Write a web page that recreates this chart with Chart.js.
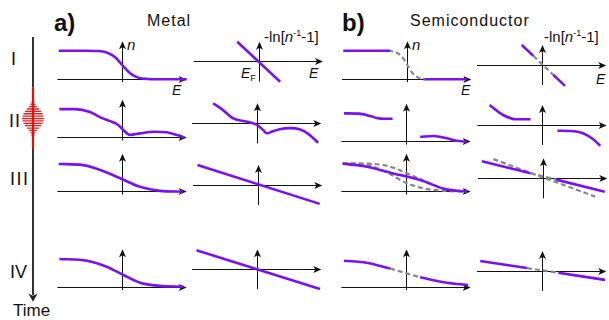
<!DOCTYPE html>
<html>
<head>
<meta charset="utf-8">
<script src="https://cdn.jsdelivr.net/npm/chart.js@4.4.1/dist/chart.umd.min.js"></script>
<style>
  body { margin: 0; background: #fff; width: 609px; height: 320px; position: relative; overflow: hidden;
         font-family: "Liberation Sans", Arial, sans-serif; color: #111; }
  canvas { position: absolute; }
  .t { position: absolute; line-height: 1; white-space: nowrap; }
  .i { font-style: italic; }
  sup { font-size: 9px; vertical-align: 6px; line-height: 0; }
</style>
</head>
<body>
<div class="t" style="left:54px;top:10.7px;font-size:24px;font-weight:bold">a)</div>
<div class="t" style="left:147px;top:13.2px;font-size:16px;letter-spacing:1px">Metal</div>
<div class="t" style="left:342px;top:10.7px;font-size:24px;font-weight:bold">b)</div>
<div class="t" style="left:410px;top:13.2px;font-size:16px;letter-spacing:1px">Semiconductor</div>

<div class="t" style="left:11px;top:49.8px;font-size:18px">I</div>
<div class="t" style="left:9px;top:111.5px;font-size:18px;letter-spacing:1px">II</div>
<div class="t" style="left:10px;top:169.8px;font-size:18px;letter-spacing:1.5px">III</div>
<div class="t" style="left:10px;top:262.8px;font-size:18px">IV</div>
<div class="t" style="left:13px;top:302.3px;font-size:17px">Time</div>

<div class="t i" style="left:127px;top:37.3px;font-size:15px">n</div>
<div class="t i" style="left:172px;top:83.1px;font-size:14px">E</div>
<div class="t" style="left:264px;top:29px;font-size:15px">-ln[<span class="i">n</span><sup>-1</sup>-1]</div>
<div class="t i" style="left:241px;top:66.1px;font-size:14px">E<span style="font-size:9px;font-style:normal;position:relative;top:3px">F</span></div>
<div class="t i" style="left:309px;top:66.1px;font-size:14px">E</div>

<div class="t i" style="left:412px;top:37.3px;font-size:15px">n</div>
<div class="t i" style="left:461px;top:83.1px;font-size:14px">E</div>
<div class="t" style="left:544px;top:29px;font-size:15px">-ln[<span class="i">n</span><sup>-1</sup>-1]</div>
<div class="t i" style="left:596px;top:72.1px;font-size:14px">E</div>

<script>
// ---- data: energy E (x) and occupation n or -ln[1/n-1] (y) for each panel ----
// Row I
const metalI_E = [-1.0, -0.6, -0.4, -0.25, -0.12, 0, 0.12, 0.25, 0.4, 0.6, 1.0];
const metalI_n = [1, 1, 0.99, 0.94, 0.78, 0.48, 0.2, 0.05, 0.01, 0, 0];
const metalI_lnE = [-0.34, 0.33];
const metalI_ln = [0.7, -0.7];
const semiI_E1 = [-1.0, -0.27];
const semiI_n1 = [1, 1];
const semiI_Ed = [-0.3, -0.18, -0.08, 0, 0.08, 0.18, 0.27];
const semiI_nd = [1, 0.95, 0.78, 0.5, 0.22, 0.05, 0];
const semiI_E2 = [0.25, 0.93];
const semiI_n2 = [0, 0];
const semiI_lnE1 = [-0.32, -0.14];
const semiI_ln1 = [0.7, 0.32];
const semiI_lnEd = [-0.14, 0.17];
const semiI_lnd = [0.32, -0.34];
const semiI_lnE2 = [0.17, 0.355];
const semiI_ln2 = [-0.34, -0.73];

// Row II
const metalII_E = [-0.99, -0.75, -0.51, -0.35, -0.2, -0.09, 0.01, 0.11, 0.27, 0.48, 0.69, 0.85, 0.96];
const metalII_n = [1.0, 1.0, 0.9, 0.71, 0.58, 0.48, 0.27, 0.1, 0.15, 0.21, 0.19, 0.09, 0.01];
const metalII_lnE = [-0.69, -0.54, -0.375, -0.22, -0.11, 0, 0.09, 0.15, 0.23, 0.35, 0.51, 0.67, 0.79, 0.95];
const metalII_ln = [0.70, 0.47, 0.17, 0.08, 0.03, -0.06, -0.23, -0.35, -0.29, -0.21, -0.17, -0.22, -0.36, -0.68];
const semiII_E1 = [-0.98, -0.75, -0.57, -0.47, -0.35, -0.22];
const semiII_n1 = [0.99, 0.98, 0.9, 0.83, 0.8, 0.8];
const semiII_E2 = [0.21, 0.42, 0.63, 0.78, 0.94];
const semiII_n2 = [0.17, 0.2, 0.12, 0.03, 0];
const semiII_lnE1 = [-0.83, -0.62, -0.41, -0.19];
const semiII_ln1 = [0.70, 0.35, 0.2, 0.2];
const semiII_lnE2 = [0.23, 0.43, 0.63, 0.79, 0.9];
const semiII_ln2 = [-0.2, -0.21, -0.29, -0.5, -0.73];

// Row III
const metalIII_E = [-1.0, -0.62, -0.35, -0.04, 0.27, 0.58, 0.94];
const metalIII_n = [0.97, 0.93, 0.76, 0.47, 0.17, 0.03, 0];
const metalIII_lnE = [-0.95, 0.96];
const metalIII_ln = [0.7, -0.66];
const semiIII_E = [-1.0, -0.68, -0.21, 0.21, 0.6, 0.94];
const semiIII_n = [0.98, 0.9, 0.64, 0.41, 0.09, 0.0];
const semiIII_Ehi = [-1.0, -0.6, -0.3, 0, 0.3, 0.6, 0.94];
const semiIII_nhi = [0.99, 0.98, 0.9, 0.65, 0.35, 0.1, 0.0];
const semiIII_Elo = [-1.0, -0.6, -0.3, 0, 0.3, 0.6, 0.94];
const semiIII_nlo = [0.99, 0.93, 0.66, 0.3, 0.1, 0.03, 0.0];
const semiIII_lnE1 = [-0.96, -0.2];
const semiIII_ln1 = [0.6, 0.177];
const semiIII_lnEd = [-0.2, 0.2];
const semiIII_lnd = [0.177, -0.046];
const semiIII_lnE2 = [0.2, 0.96];
const semiIII_ln2 = [-0.046, -0.47];
const semiIII_lnEref = [-0.78, 0.81];
const semiIII_lnref = [0.67, -0.64];

// Row IV
const metalIV_E = [-0.99, -0.56, -0.25, 0.01, 0.27, 0.58, 0.95];
const metalIV_n = [0.99, 0.93, 0.72, 0.43, 0.16, 0.05, 0.02];
const metalIV_lnE = [-0.95, 0.98];
const metalIV_ln = [0.67, -0.69];
const semiIV_E1 = [-0.98, -0.63, -0.26];
const semiIV_n1 = [0.93, 0.86, 0.66];
const semiIV_Ed = [-0.26, -0.02, 0.21];
const semiIV_nd = [0.66, 0.5, 0.35];
const semiIV_E2 = [0.21, 0.63, 0.96];
const semiIV_n2 = [0.35, 0.16, 0.08];
const semiIV_lnE1 = [-0.97, -0.24];
const semiIV_ln1 = [0.35, 0.103];
const semiIV_lnEd = [-0.24, 0.25];
const semiIV_lnd = [0.103, -0.062];
const semiIV_lnE2 = [0.25, 0.98];
const semiIV_ln2 = [-0.062, -0.31];

// time axis: pump window and pulse stripes (time 0..1 top to bottom, half-width in px)
const pumpWindow = [0.19, 0.423];
const pulseT = [0.245, 0.254, 0.263, 0.272, 0.281, 0.290, 0.299, 0.308, 0.317, 0.326, 0.335, 0.344, 0.353, 0.362, 0.371];
const pulseA = [1.5, 2.5, 4, 6, 8, 9.5, 10.5, 11, 10.5, 9.5, 8, 6, 4, 2.5, 1.5];

// ---- drawing ----
const PURPLE = '#7a12ee';
const GRAY = '#888888';
const SX = 64, SY = 28.6;

function pts(xs, ys) { return xs.map((x, i) => ({ x: x, y: ys[i] })); }
function solid(xs, ys) {
  return { data: pts(xs, ys), borderColor: PURPLE, borderWidth: 2.6, tension: 0.4, cubicInterpolationMode: 'monotone' };
}
function dashed(xs, ys) {
  return { data: pts(xs, ys), borderColor: GRAY, borderWidth: 2.2, borderDash: [5, 3], tension: 0.4, cubicInterpolationMode: 'monotone' };
}

function arrowHead(ctx, x, y, dir) {
  // dir: 'right', 'up', 'down'
  const len = 8, w = 3.5;
  ctx.beginPath();
  if (dir === 'right') { ctx.moveTo(x, y); ctx.lineTo(x - len, y - w); ctx.lineTo(x - len + 2, y); ctx.lineTo(x - len, y + w); }
  else if (dir === 'up') { ctx.moveTo(x, y); ctx.lineTo(x - w, y + len); ctx.lineTo(x, y + len - 2); ctx.lineTo(x + w, y + len); }
  else { ctx.moveTo(x, y); ctx.lineTo(x - w - 1, y - len); ctx.lineTo(x, y - len + 2); ctx.lineTo(x + w + 1, y - len); }
  ctx.closePath();
  ctx.fill();
}

// snap to pixel centres so the 1px axes stay black
const crisp = (v) => Math.round(v - 0.5) + 0.5;

const axesPlugin = {
  id: 'axes',
  beforeDatasetsDraw(chart, args, opts) {
    const ctx = chart.ctx, xs = chart.scales.x, ys = chart.scales.y;
    const x0 = crisp(xs.getPixelForValue(0)), y0 = crisp(ys.getPixelForValue(0));
    const xa = xs.getPixelForValue(opts.xMin), xb = xs.getPixelForValue(opts.xMax);
    const ya = ys.getPixelForValue(opts.yMin), yb = ys.getPixelForValue(opts.yMax);
    ctx.save();
    ctx.strokeStyle = '#111';
    ctx.fillStyle = '#111';
    ctx.lineWidth = 1;
    ctx.beginPath();
    ctx.moveTo(xa, y0); ctx.lineTo(xb - 5, y0);
    ctx.moveTo(x0, ya); ctx.lineTo(x0, yb + 5);
    ctx.stroke();
    arrowHead(ctx, xb, y0, 'right');
    arrowHead(ctx, x0, yb, 'up');
    ctx.restore();
  }
};

function panel(ox, oy, yMin, yMax, datasets) {
  const m = 8;
  const L = Math.floor(ox + SX * -1.02 - m), R = Math.ceil(ox + SX * 1.0 + m);
  const T = Math.floor(oy - SY * yMax - m), B = Math.ceil(oy - SY * yMin + m);
  const canvas = document.createElement('canvas');
  canvas.width = R - L;
  canvas.height = B - T;
  canvas.style.left = L + 'px';
  canvas.style.top = T + 'px';
  document.body.appendChild(canvas);
  new Chart(canvas, {
    type: 'line',
    data: { datasets: datasets },
    options: {
      responsive: false,
      animation: false,
      devicePixelRatio: 1,
      layout: { padding: 0 },
      elements: { point: { radius: 0 } },
      scales: {
        x: { type: 'linear', display: false, min: (L - ox) / SX, max: (R - ox) / SX },
        y: { type: 'linear', display: false, min: (oy - B) / SY, max: (oy - T) / SY }
      },
      plugins: {
        legend: { display: false },
        tooltip: { enabled: false },
        axes: { xMin: -1.02, xMax: 1.0, yMin: yMin, yMax: yMax }
      }
    },
    plugins: [axesPlugin]
  });
}

const N = [-0.1, 1.33];   // occupation panels: axis extent
const LN = [-0.7, 0.7];   // -ln panels

// Row I
panel(122.7, 79.3, N[0], N[1], [solid(metalI_E, metalI_n)]);
panel(259, 61.7, LN[0], LN[1], [solid(metalI_lnE, metalI_ln)]);
panel(407.3, 79.3, N[0], N[1], [solid(semiI_E1, semiI_n1), dashed(semiI_Ed, semiI_nd), solid(semiI_E2, semiI_n2)]);
panel(542.3, 65, LN[0], LN[1], [solid(semiI_lnE1, semiI_ln1), dashed(semiI_lnEd, semiI_lnd), solid(semiI_lnE2, semiI_ln2)]);
// Row II
panel(122.7, 137.7, N[0], N[1], [solid(metalII_E, metalII_n)]);
panel(257.3, 123.3, LN[0], LN[1], [solid(metalII_lnE, metalII_ln)]);
panel(406.7, 141.7, N[0], N[1], [solid(semiII_E1, semiII_n1), solid(semiII_E2, semiII_n2)]);
panel(542.7, 125, LN[0], LN[1], [solid(semiII_lnE1, semiII_ln1), solid(semiII_lnE2, semiII_ln2)]);
// Row III
panel(122.7, 191.7, N[0], N[1], [solid(metalIII_E, metalIII_n)]);
panel(258.3, 185, LN[0], LN[1], [solid(metalIII_lnE, metalIII_ln)]);
panel(406.7, 191.7, N[0], N[1], [solid(semiIII_E, semiIII_n), dashed(semiIII_Ehi, semiIII_nhi), dashed(semiIII_Elo, semiIII_nlo)]);
panel(543.3, 178.3, LN[0], LN[1], [solid(semiIII_lnE1, semiIII_ln1), dashed(semiIII_lnEd, semiIII_lnd),
  solid(semiIII_lnE2, semiIII_ln2), dashed(semiIII_lnEref, semiIII_lnref)]);
// Row IV
panel(122.7, 287.3, N[0], N[1], [solid(metalIV_E, metalIV_n)]);
panel(257.3, 269.3, LN[0], LN[1], [solid(metalIV_lnE, metalIV_ln)]);
panel(406.7, 287.3, N[0], N[1], [solid(semiIV_E1, semiIV_n1), dashed(semiIV_Ed, semiIV_nd), solid(semiIV_E2, semiIV_n2)]);
panel(542.3, 271, LN[0], LN[1], [solid(semiIV_lnE1, semiIV_ln1), dashed(semiIV_lnEd, semiIV_lnd), solid(semiIV_lnE2, semiIV_ln2)]);

// ---- time axis with pump pulse ----
(function () {
  const axX = 33, t0 = 37, tSpan = 264.7;
  const L = 0, T = 30, W = 60, H = 282;
  const canvas = document.createElement('canvas');
  canvas.width = W; canvas.height = H;
  canvas.style.left = L + 'px'; canvas.style.top = T + 'px';
  document.body.appendChild(canvas);

  const stripes = [];
  pulseT.forEach((t, i) => {
    stripes.push({ x: -pulseA[i], y: t }, { x: pulseA[i], y: t }, { x: null, y: null });
  });

  const timeArrow = {
    id: 'timeArrow',
    afterDatasetsDraw(chart) {
      const ctx = chart.ctx;
      ctx.save();
      ctx.fillStyle = '#222';
      arrowHead(ctx, chart.scales.x.getPixelForValue(0), chart.scales.y.getPixelForValue(1), 'down');
      ctx.restore();
    }
  };

  new Chart(canvas, {
    type: 'line',
    data: {
      datasets: [
        { data: [{ x: 0, y: 0 }, { x: 0, y: pumpWindow[0] }], borderColor: '#333', borderWidth: 2 },
        { data: [{ x: 0, y: pumpWindow[1] }, { x: 0, y: 0.975 }], borderColor: '#333', borderWidth: 2 },
        { data: [{ x: 0, y: pumpWindow[0] }, { x: 0, y: pumpWindow[1] }], borderColor: '#e01010', borderWidth: 2.2 },
        { data: stripes, borderColor: '#f01818', borderWidth: 1.3, spanGaps: false }
      ]
    },
    options: {
      responsive: false,
      animation: false,
      devicePixelRatio: 1,
      layout: { padding: 0 },
      elements: { point: { radius: 0 }, line: { tension: 0 } },
      scales: {
        x: { type: 'linear', display: false, min: L - axX, max: L + W - axX },
        y: { type: 'linear', display: false, reverse: true, min: (T - t0) / tSpan, max: (T + H - t0) / tSpan }
      },
      plugins: { legend: { display: false }, tooltip: { enabled: false } }
    },
    plugins: [timeArrow]
  });
})();
</script>
</body>
</html>
